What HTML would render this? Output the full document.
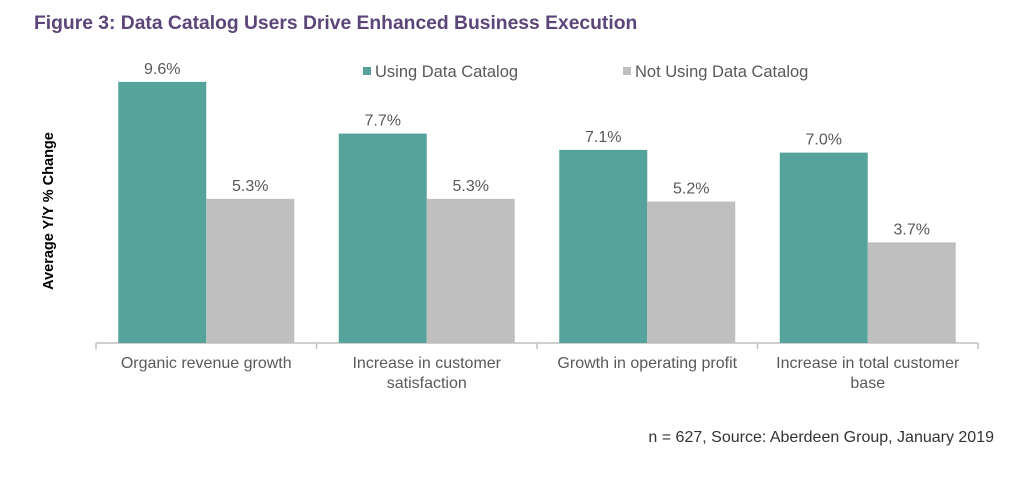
<!DOCTYPE html>
<html><head><meta charset="utf-8"><style>
body{margin:0;width:1024px;height:478px;background:#fff;overflow:hidden;font-family:"Liberation Sans",sans-serif}
</style></head><body>
<svg id="c" width="1024" height="478">
<text x="34" y="29" font-size="19.3" font-weight="bold" fill="#5b4579">Figure 3: Data Catalog Users Drive Enhanced Business Execution</text>
<rect x="363" y="67" width="8" height="8" fill="#55a39b"/>
<text x="375" y="77" font-size="16.5" fill="#595959">Using Data Catalog</text>
<rect x="623" y="67" width="8" height="8" fill="#bfbfbf"/>
<text x="635" y="77" font-size="16.5" fill="#595959">Not Using Data Catalog</text>
<text transform="translate(53,211) rotate(-90)" text-anchor="middle" font-size="14.5" font-weight="bold" fill="#000">Average Y/Y % Change</text>
<g id="bars"></g>
<text x="994" y="442" text-anchor="end" font-size="16" fill="#333">n = 627, Source: Aberdeen Group, January 2019</text>
</svg>
<script>
const categories=[["Organic revenue growth"],["Increase in customer","satisfaction"],["Growth in operating profit"],["Increase in total customer","base"]];
const usingValues=[9.6,7.7,7.1,7.0];
const notUsingValues=[5.3,5.3,5.2,3.7];
const valueLabels=["9.6%","7.7%","7.1%","7.0%"];
const notLabels=["5.3%","5.3%","5.2%","3.7%"];
const NS="http://www.w3.org/2000/svg";
const g=document.getElementById('bars');
const base=343,pxPer=27.2,x0=96,gw=220.5,bw=88;
const y=v=>base-v*pxPer;
const gx=i=>x0+i*gw;
function mk(t,a){const e=document.createElementNS(NS,t);for(const k in a)e.setAttribute(k,a[k]);g.appendChild(e);return e;}
const ax=mk('line',{x1:x0,y1:base,x2:x0+4*gw,y2:base,stroke:'#bfbfbf','stroke-width':1.5});


for(let i=0;i<=4;i++){const t=mk('line',{x1:gx(i),y1:base,x2:gx(i),y2:base+6,stroke:'#bfbfbf','stroke-width':1.5});

}
categories.forEach((c,i)=>{
 const cx=gx(i)+gw/2;
 const r1=mk('rect',{x:cx-bw,y:y(usingValues[i]),width:bw,height:usingValues[i]*pxPer,fill:'#55a39b'});
 
 
 const r2=mk('rect',{x:cx,y:y(notUsingValues[i]),width:bw,height:notUsingValues[i]*pxPer,fill:'#bfbfbf'});
 
 
 const l1=mk('text',{x:cx-bw/2,y:y(usingValues[i])-8,'text-anchor':'middle','font-size':16,fill:'#595959'});l1.textContent=valueLabels[i];
 
 
 const l2=mk('text',{x:cx+bw/2,y:y(notUsingValues[i])-8,'text-anchor':'middle','font-size':16,fill:'#595959'});l2.textContent=notLabels[i];
 
 
 c.forEach((line,j)=>{const t=mk('text',{x:cx,y:base+25+j*20,'text-anchor':'middle','font-size':16,fill:'#595959'});t.textContent=line;
 
 });
});
</script>
</body></html>
